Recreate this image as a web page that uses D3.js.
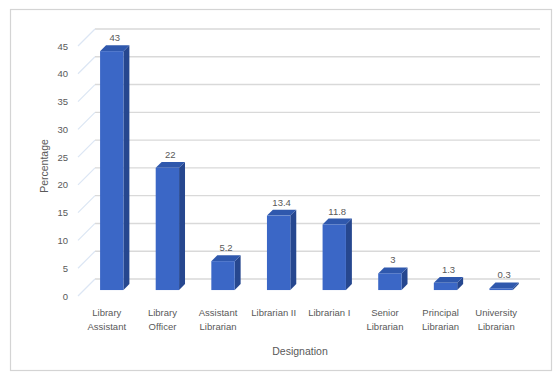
<!DOCTYPE html>
<html>
<head>
<meta charset="utf-8">
<script src="https://cdn.jsdelivr.net/npm/d3@7"></script>
<style>
  html, body { margin: 0; padding: 0; background: #fff; }
  svg text { font-family: "Liberation Sans", Arial, sans-serif; fill: #595959; }
</style>
</head>
<body>
<svg id="chart" width="554" height="373"></svg>
<script>
// Staff distribution by designation (percentage)
const categories = [
  ["Library", "Assistant"],
  ["Library", "Officer"],
  ["Assistant", "Librarian"],
  ["Librarian II"],
  ["Librarian I"],
  ["Senior", "Librarian"],
  ["Principal", "Librarian"],
  ["University", "Librarian"]
];
const values = [43, 22, 5.2, 13.4, 11.8, 3, 1.3, 0.3];
const valueLabels = ["43", "22", "5.2", "13.4", "11.8", "3", "1.3", "0.3"];
const yTicks = [0, 5, 10, 15, 20, 25, 30, 35, 40, 45];

const svg = d3.select("#chart");

// Outer chart frame
svg.append("rect")
  .attr("x", 10.5).attr("y", 9.5).attr("width", 541).attr("height", 361)
  .attr("fill", "#fff").attr("stroke", "#d4d4d4").attr("stroke-width", 1.2);

// 3D projection: the floor front edge and the back wall are offset by a depth vector
const depth = { dx: 17, dy: -17 };
const frontLeft = 78, frontRight = 523, frontZero = 296;

const x = d3.scaleBand().domain(d3.range(categories.length))
  .range([frontLeft, frontRight]).paddingInner(0.58).paddingOuter(0.29);
const y = d3.scaleLinear().domain([0, 45]).range([frontZero, frontZero - 250]);

// project a point (front-plane x, value) at depth fraction t (0 = front, 1 = back)
const px = (xf, t) => xf + depth.dx * t;
const py = (v, t) => y(v) + depth.dy * t;

// Back-wall gridlines and the slanted side-wall lines
const grid = svg.append("g");
yTicks.forEach(v => {
  grid.append("line")
    .attr("x1", px(frontLeft, 1)).attr("x2", px(frontRight, 1))
    .attr("y1", py(v, 1)).attr("y2", py(v, 1))
    .attr("stroke", "#d9d9d9").attr("stroke-width", 1.4);
  grid.append("line")
    .attr("x1", px(frontLeft, 0)).attr("x2", px(frontLeft, 1))
    .attr("y1", py(v, 0)).attr("y2", py(v, 1))
    .attr("stroke", "#dce6f4").attr("stroke-width", 1.2);
});

// Y tick labels at the front edge
svg.append("g").selectAll("text").data(yTicks).join("text")
  .attr("x", frontLeft - 10).attr("y", d => y(d) + 3.5)
  .attr("text-anchor", "end").attr("font-size", 9.5)
  .text(d => d);

// Bars as boxes: front face, right side and top face
const t0 = 0.35, t1 = 0.7;
const bars = svg.append("g");
values.forEach((v, i) => {
  const xl = x(i), xr = x(i) + x.bandwidth();
  const fL = px(xl, t0), fR = px(xr, t0);
  const bL = px(xl, t1), bR = px(xr, t1);
  const fTop = py(v, t0), fBot = py(0, t0);
  const bTop = py(v, t1), bBot = py(0, t1);
  const poly = pts => pts.map(p => p.join(",")).join(" ");
  // side face
  bars.append("polygon")
    .attr("points", poly([[fR, fTop], [bR, bTop], [bR, bBot], [fR, fBot]]))
    .attr("fill", "#26478f");
  // top face
  bars.append("polygon")
    .attr("points", poly([[fL, fTop], [bL, bTop], [bR, bTop], [fR, fTop]]))
    .attr("fill", "#2f58ad");
  // front face
  bars.append("rect")
    .attr("x", fL).attr("y", fTop)
    .attr("width", fR - fL).attr("height", Math.max(0, fBot - fTop))
    .attr("fill", "#3b67c6");
  // value label
  svg.append("text")
    .attr("x", (fL + bR) / 2).attr("y", bTop - 4)
    .attr("text-anchor", "middle").attr("font-size", 9.5)
    .text(valueLabels[i]);
});

// Category labels
const cat = svg.append("g");
categories.forEach((lines, i) => {
  const t = cat.append("text")
    .attr("x", x(i) + x.bandwidth() / 2 + 1)
    .attr("y", 316)
    .attr("text-anchor", "middle").attr("font-size", 9.5);
  lines.forEach((s, k) => {
    t.append("tspan").attr("x", x(i) + x.bandwidth() / 2 + 1)
      .attr("dy", k === 0 ? 0 : 14).text(s);
  });
});

// Axis titles
svg.append("text")
  .attr("x", 300).attr("y", 355)
  .attr("text-anchor", "middle").attr("font-size", 10.5)
  .text("Designation");
svg.append("text")
  .attr("transform", "translate(48,166) rotate(-90)")
  .attr("text-anchor", "middle").attr("font-size", 10.5)
  .text("Percentage");
</script>
</body>
</html>
